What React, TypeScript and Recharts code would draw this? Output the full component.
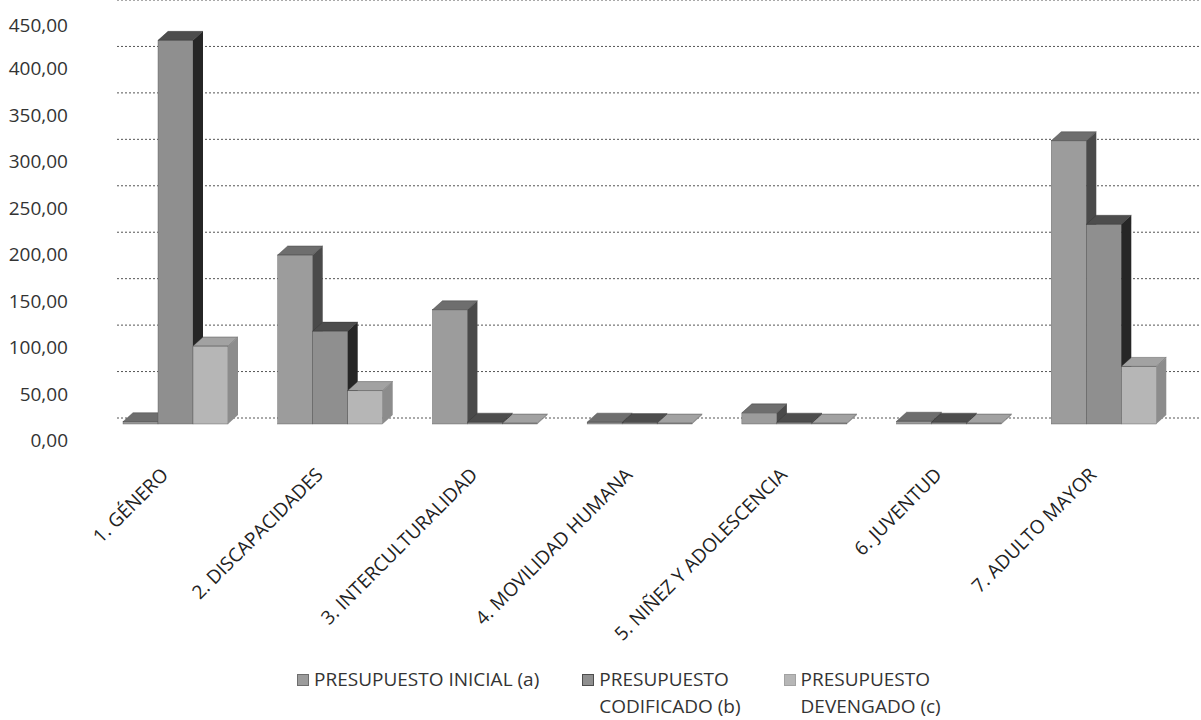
import { BarChart, Bar, XAxis, YAxis, ReferenceLine, Legend } from 'recharts'

const CATEGORIES = [
  '1. GÉNERO',
  '2. DISCAPACIDADES',
  '3. INTERCULTURALIDAD',
  '4. MOVILIDAD HUMANA',
  '5. NIÑEZ Y ADOLESCENCIA',
  '6. JUVENTUD',
  '7. ADULTO MAYOR',
]
const INICIAL = [2.5, 182, 123, 2, 12, 3, 305]
const CODIFICADO = [413, 100, 2, 1.5, 2, 2, 215]
const DEVENGADO = [84, 36, 1, 1, 1, 1, 62]
const Y_TICKS = [0, 50, 100, 150, 200, 250, 300, 350, 400, 450]

const SERIES = [
  { key: 'inicial', name: 'PRESUPUESTO INICIAL (a)', lines: ['PRESUPUESTO INICIAL (a)'], front: '#9c9c9c', top: '#6e6e6e', side: '#4a4a4a' },
  { key: 'codificado', name: 'PRESUPUESTO CODIFICADO (b)', lines: ['PRESUPUESTO', 'CODIFICADO (b)'], front: '#8f8f8f', top: '#4d4d4d', side: '#262626' },
  { key: 'devengado', name: 'PRESUPUESTO DEVENGADO (c)', lines: ['PRESUPUESTO', 'DEVENGADO (c)'], front: '#b6b6b6', top: '#a2a2a2', side: '#8c8c8c' },
]

const data = CATEGORIES.map((name, i) => ({
  name,
  inicial: INICIAL[i],
  codificado: CODIFICADO[i],
  devengado: DEVENGADO[i],
}))

const FONT = '"Open Sans", sans-serif'
const DEPTH_X = 10
const DEPTH_Y = 9
const LABEL_SHIFT = 16 // axis labels sit on the front edge of the 3D floor
const WALL_SHIFT = 6 // gridlines sit on the back wall

function make3DBar(front: string, top: string, side: string) {
  return (props: any) => {
    const { x, y, width, height } = props
    if (width == null || height == null) return <g />
    const h = Math.max(height, 0.8)
    const yy = y + height - h
    return (
      <g>
        <rect x={x} y={yy} width={width} height={h} fill={front} stroke="#555" strokeWidth={0.4} />
        <polygon
          points={`${x},${yy} ${x + DEPTH_X},${yy - DEPTH_Y} ${x + width + DEPTH_X},${yy - DEPTH_Y} ${x + width},${yy}`}
          fill={top}
          stroke="#333"
          strokeWidth={0.4}
        />
        <polygon
          points={`${x + width},${yy} ${x + width + DEPTH_X},${yy - DEPTH_Y} ${x + width + DEPTH_X},${yy + h - DEPTH_Y} ${x + width},${yy + h}`}
          fill={side}
        />
      </g>
    )
  }
}

// dotted gridline drawn on the back wall of the 3D plot
function WallLine(props: any) {
  const { x1, x2, y1 } = props
  if (x1 == null || y1 == null) return <g />
  const y = y1 - WALL_SHIFT
  return <line x1={x1 + 19} x2={x2 + 20} y1={y} y2={y} stroke="#555" strokeWidth={1} strokeDasharray="2 2" />
}

function YTick({ x, y, payload }: any) {
  return (
    <text
      x={x}
      y={y + LABEL_SHIFT}
      textAnchor="end"
      dominantBaseline="central"
      fill="#333"
      fontSize={19}
      fontFamily={FONT}
    >
      {Number(payload.value).toFixed(2).replace('.', ',')}
    </text>
  )
}

function XTick({ x, y, payload }: any) {
  const tx = x - 6
  const ty = y + 44
  return (
    <text
      x={tx}
      y={ty}
      textAnchor="end"
      transform={`rotate(-45, ${tx}, ${ty})`}
      fill="#222"
      fontSize={19}
      fontFamily={FONT}
    >
      {payload.value}
    </text>
  )
}

function LegendContent() {
  return (
    <div style={{ display: 'flex', paddingLeft: 290, paddingTop: 36, gap: 44, fontFamily: FONT, fontSize: 19, color: '#333', lineHeight: '27px' }}>
      {SERIES.map((s) => (
        <div key={s.key} style={{ display: 'flex', alignItems: 'flex-start' }}>
          <span style={{ display: 'inline-block', width: 10, height: 10, background: s.front, marginTop: 9, marginRight: 6, outline: `1px solid ${s.top}` }} />
          <div>
            {s.lines.map((l) => (
              <div key={l}>{l}</div>
            ))}
          </div>
        </div>
      ))}
    </div>
  )
}

export default function App() {
  return (
    <div style={{ position: 'absolute', left: 0, top: 0, width: 1201, height: 720, background: '#fff' }}>
      <BarChart
        width={1201}
        height={720}
        data={data}
        margin={{ top: 6, right: 20, left: 8, bottom: 0 }}
        barSize={35}
        barGap={0}
      >
        {Y_TICKS.map((t) => (
          <ReferenceLine key={t} y={t} zIndex={-50} shape={(p: any) => <WallLine {...p} />} />
        ))}
        <XAxis
          dataKey="name"
          axisLine={false}
          tickLine={false}
          interval={0}
          height={206}
          tick={<XTick />}
        />
        <YAxis
          domain={[0, 450]}
          ticks={Y_TICKS}
          axisLine={false}
          tickLine={false}
          tickSize={0}
          tickMargin={30}
          width={90}
          tick={<YTick />}
        />
        <Legend verticalAlign="bottom" height={90} content={<LegendContent />} />
        {SERIES.map((s) => (
          <Bar
            key={s.key}
            dataKey={s.key}
            name={s.name}
            fill={s.front}
            shape={make3DBar(s.front, s.top, s.side)}
            isAnimationActive={false}
          />
        ))}
      </BarChart>
    </div>
  )
}
